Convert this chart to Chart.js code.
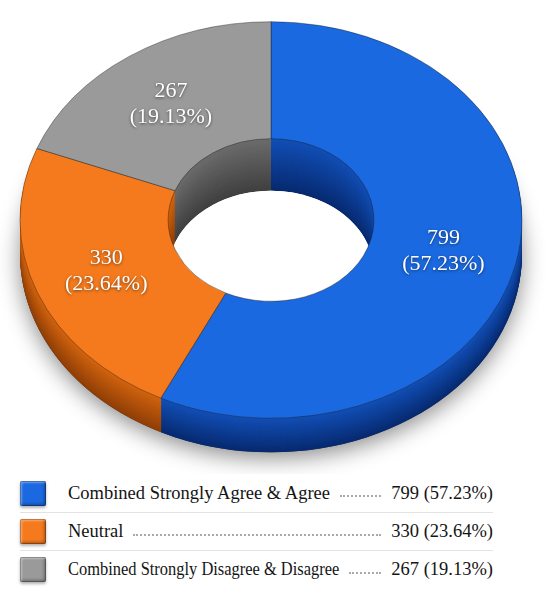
<!DOCTYPE html>
<html>
<head>
<meta charset="utf-8">
<script src="https://cdn.jsdelivr.net/npm/chart.js@4.4.1/dist/chart.umd.min.js"></script>
<style>
html,body{margin:0;padding:0;background:#fff;}
#wrap{position:relative;width:550px;height:596px;overflow:hidden;background:#fff;}
#chart{position:absolute;left:0;top:0;}
#legend{position:absolute;left:20px;top:474px;width:473px;font-family:"Liberation Serif","DejaVu Serif",serif;font-size:18.5px;color:#141414;}
.row{display:flex;align-items:center;height:38px;box-sizing:border-box;}
.row+.row{border-top:1px solid #e3e3e3;}
.sw{width:26px;height:25px;flex:none;border-radius:2px;margin-right:22px;
  box-shadow:inset 0 0 0 1px rgba(0,0,0,.25),inset 2px 2px 2px rgba(255,255,255,.35),inset -2px -2px 3px rgba(0,0,0,.3),0 2px 3px rgba(0,0,0,.3);}
.lbl{white-space:nowrap;flex:none;display:inline-block;}
.lbl span{display:inline-block;transform-origin:0 50%;}
.dots{flex:1;height:0;border-bottom:2px dotted #aaa;margin:0 10px;position:relative;top:3px;}
.val{white-space:nowrap;flex:none;}
</style>
</head>
<body>
<div id="wrap">
  <canvas id="chart" width="550" height="474"></canvas>
  <div id="legend"></div>
</div>
<script>
// answers
var categories = ['Combined Strongly Agree & Agree', 'Neutral', 'Combined Strongly Disagree & Disagree'];
var counts = [799, 330, 267];

// colours: top face, side (upper edge), side (lower edge)
var faceColors = ['#1b69e0', '#f57a1d', '#9a9a9a'];
var sideTop = ['#124fb6', '#d2640f', '#6c6c6c'];
var sideBottom = ['#072a70', '#8f3e07', '#404040'];

var total = counts.reduce(function(a, b){ return a + b; }, 0);
function pct(v){ return (v / total * 100).toFixed(2) + '%'; }

var squash = 0.79;   // vertical flattening of the ring
var depth = 34;      // outer wall height
var holeDepth = 52;  // how much inner wall shows through the hole

function mix(a, b, t){
    var pa = parseInt(a.slice(1), 16), pb = parseInt(b.slice(1), 16);
    var r = Math.round(((pa >> 16) & 255) * (1 - t) + ((pb >> 16) & 255) * t);
    var g = Math.round(((pa >> 8) & 255) * (1 - t) + ((pb >> 8) & 255) * t);
    var bl = Math.round((pa & 255) * (1 - t) + (pb & 255) * t);
    return 'rgb(' + r + ',' + g + ',' + bl + ')';
}

function flatten(ctx, cx, cy){
    ctx.translate(cx, cy);
    ctx.scale(1, squash);
    ctx.translate(-cx, -cy);
}

function holePath(ctx, cx, cy, r){
    ctx.save();
    flatten(ctx, cx, cy);
    ctx.moveTo(cx + r, cy);
    ctx.arc(cx, cy, r, 0, Math.PI * 2);
    ctx.restore();
}

function walls(ctx, arcs, cx, cy, h){
    for (var d = h; d >= 1; d--) {
        arcs.forEach(function(a, i){
            ctx.save();
            ctx.translate(0, d);
            flatten(ctx, cx, cy);
            ctx.beginPath();
            ctx.arc(cx, cy, a.outerRadius, a.startAngle, a.endAngle);
            ctx.arc(cx, cy, a.innerRadius, a.endAngle, a.startAngle, true);
            ctx.closePath();
            ctx.fillStyle = mix(sideTop[i], sideBottom[i], d / h);
            ctx.fill();
            ctx.restore();
        });
    }
}

var ring3d = {
    id: 'ring3d',
    beforeDatasetsDraw: function(chart){
        var ctx = chart.ctx;
        var arcs = chart.getDatasetMeta(0).data;
        if (!arcs.length) return;
        var cx = arcs[0].x, cy = arcs[0].y, rin = arcs[0].innerRadius;

        // outside the hole
        ctx.save();
        ctx.beginPath();
        ctx.rect(0, 0, chart.width, chart.height);
        holePath(ctx, cx, cy, rin);
        ctx.clip('evenodd');
        ctx.save();
        ctx.translate(0, depth);
        flatten(ctx, cx, cy);
        ctx.shadowColor = 'rgba(0,0,0,0.45)';
        ctx.shadowBlur = 22;
        ctx.shadowOffsetY = 6;
        ctx.beginPath();
        ctx.arc(cx, cy, arcs[0].outerRadius, 0, Math.PI * 2);
        ctx.arc(cx, cy, rin, Math.PI * 2, 0, true);
        ctx.fillStyle = '#333';
        ctx.fill();
        ctx.restore();
        walls(ctx, arcs, cx, cy, depth);
        ctx.restore();

        // inner wall seen through the hole
        ctx.save();
        ctx.beginPath();
        holePath(ctx, cx, cy, rin);
        ctx.clip();
        walls(ctx, arcs, cx, cy, holeDepth);
        ctx.save();
        ctx.translate(0, holeDepth);
        flatten(ctx, cx, cy);
        ctx.beginPath();
        ctx.arc(cx, cy, rin, 0, Math.PI * 2);
        ctx.restore();
        ctx.fillStyle = '#fff';
        ctx.fill();
        ctx.restore();

        // flatten the top face drawn by chart.js
        ctx.save();
        flatten(ctx, cx, cy);
    },
    afterDatasetsDraw: function(chart){
        var ctx = chart.ctx;
        ctx.restore();
        var arcs = chart.getDatasetMeta(0).data;
        ctx.save();
        ctx.font = '22px "Liberation Serif", serif';
        ctx.fillStyle = '#fff';
        ctx.textAlign = 'center';
        ctx.textBaseline = 'middle';
        ctx.shadowColor = 'rgba(0,0,0,0.55)';
        ctx.shadowBlur = 3;
        ctx.shadowOffsetY = 1;
        arcs.forEach(function(a, i){
            var p = a.tooltipPosition();
            var y = a.y + (p.y - a.y) * squash;
            ctx.fillText(String(counts[i]), p.x, y - 13);
            ctx.fillText('(' + pct(counts[i]) + ')', p.x, y + 13);
        });
        ctx.restore();
    }
};

var chart = new Chart(document.getElementById('chart').getContext('2d'), {
    type: 'doughnut',
    data: {
        labels: categories,
        datasets: [{
            data: counts,
            backgroundColor: faceColors,
            borderColor: 'rgba(25,25,25,0.45)',
            borderWidth: 1,
            radius: 251,
            cutout: '41%',
            clip: false
        }]
    },
    options: {
        responsive: false,
        animation: false,
        events: [],
        layout: { padding: { left: 0, right: 8, top: 0, bottom: 34 } },
        plugins: { legend: { display: false }, tooltip: { enabled: false } }
    },
    plugins: [ring3d]
});

// legend with leaders
var legend = document.getElementById('legend');
categories.forEach(function(name, i){
    var row = document.createElement('div');
    row.className = 'row';
    var sw = document.createElement('div');
    sw.className = 'sw';
    sw.style.background = faceColors[i];
    var lbl = document.createElement('span');
    lbl.className = 'lbl';
    var inner = document.createElement('span');
    inner.textContent = name;
    lbl.appendChild(inner);
    var dots = document.createElement('span');
    dots.className = 'dots';
    var val = document.createElement('span');
    val.className = 'val';
    val.textContent = counts[i] + ' (' + pct(counts[i]) + ')';
    row.appendChild(sw); row.appendChild(lbl); row.appendChild(dots); row.appendChild(val);
    legend.appendChild(row);

    // squeeze long labels so a short leader still fits
    var room = row.clientWidth - 48 - val.offsetWidth - 20 - 32;
    var w = inner.offsetWidth;
    if (w > room) {
        lbl.style.width = room + 'px';
        inner.style.transform = 'scaleX(' + (room / w).toFixed(3) + ')';
    }
});
</script>
</body>
</html>
